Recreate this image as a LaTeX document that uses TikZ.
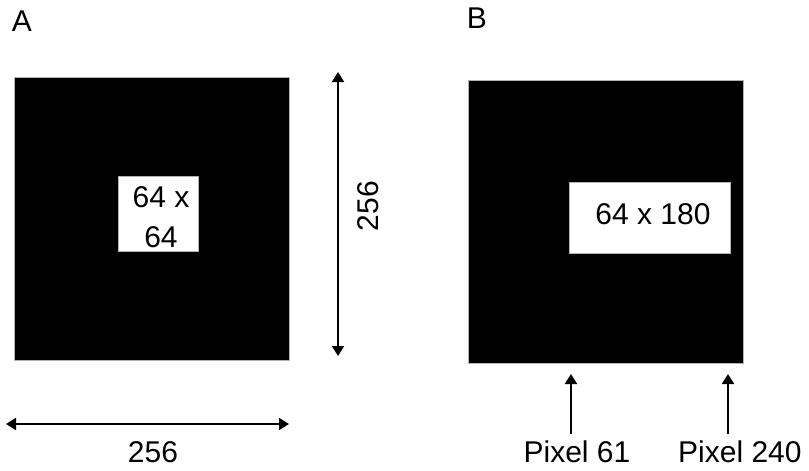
\documentclass[tikz,border=0pt]{standalone}
\usepackage{fontspec}
\setmainfont{Liberation Sans}
\usetikzlibrary{arrows.meta,positioning}

\tikzset{
        field/.style={fill=black, draw=gray!60, line width=0.6pt, inner sep=0pt},
        window/.style={fill=white, draw=gray!60, line width=0.6pt, inner sep=0pt, align=center},
        dim/.style={line width=2pt, {Triangle[length=10pt,width=12pt]}-{Triangle[length=10pt,width=12pt]}},
        mark arrow/.style={line width=2pt, -{Triangle[length=10pt,width=12pt]}},
        lbl/.style={font=\fontsize{30}{40}\selectfont, inner sep=0pt}
}

\begin{document}
\begin{tikzpicture}[x=1pt, y=-1pt]
        \useasboundingbox (0, 0) rectangle (809, 471);

        % panel A
        \node [lbl] (labelA) at (22, 21) {A};
        \node [field, minimum width=275pt, minimum height=283pt] (fieldA) at (151.5, 218.5) {};
        \node [window, minimum width=80pt, minimum height=75pt] (winA) at (158, 213.5) {};
        \node [lbl, align=center] (textA) at (161, 217) {64 x\\64};

        \coordinate (vtop) at (338, 72);
        \coordinate (vbot) at (338, 356);
        \draw [dim] (vtop) -- (vbot);
        \node [lbl, rotate=90] (sizeV) at (368, 206) {256};

        \coordinate (hleft) at (6, 424);
        \coordinate (hright) at (289, 424);
        \draw [dim] (hleft) -- (hright);
        \node [lbl] (sizeH) at (153, 452) {256};

        % panel B
        \node [lbl] (labelB) at (477, 18) {B};
        \node [field, minimum width=275pt, minimum height=283pt] (fieldB) at (605.5, 221.5) {};
        \node [window, minimum width=161pt, minimum height=71pt] (winB) at (649.5, 217.5) {};
        \node [lbl] (textB) at (653, 214) {64 x 180};

        \node [lbl] (px61) at (577, 452) {Pixel 61};
        \node [lbl, anchor=west] (px240) at (678, 452) {Pixel 240};
        \coordinate (tip61) at (571, 374);
        \coordinate (tip240) at (728, 374);
        \draw [mark arrow] (571, 434) -- (tip61);
        \draw [mark arrow] (728, 434) -- (tip240);
\end{tikzpicture}
\end{document}
